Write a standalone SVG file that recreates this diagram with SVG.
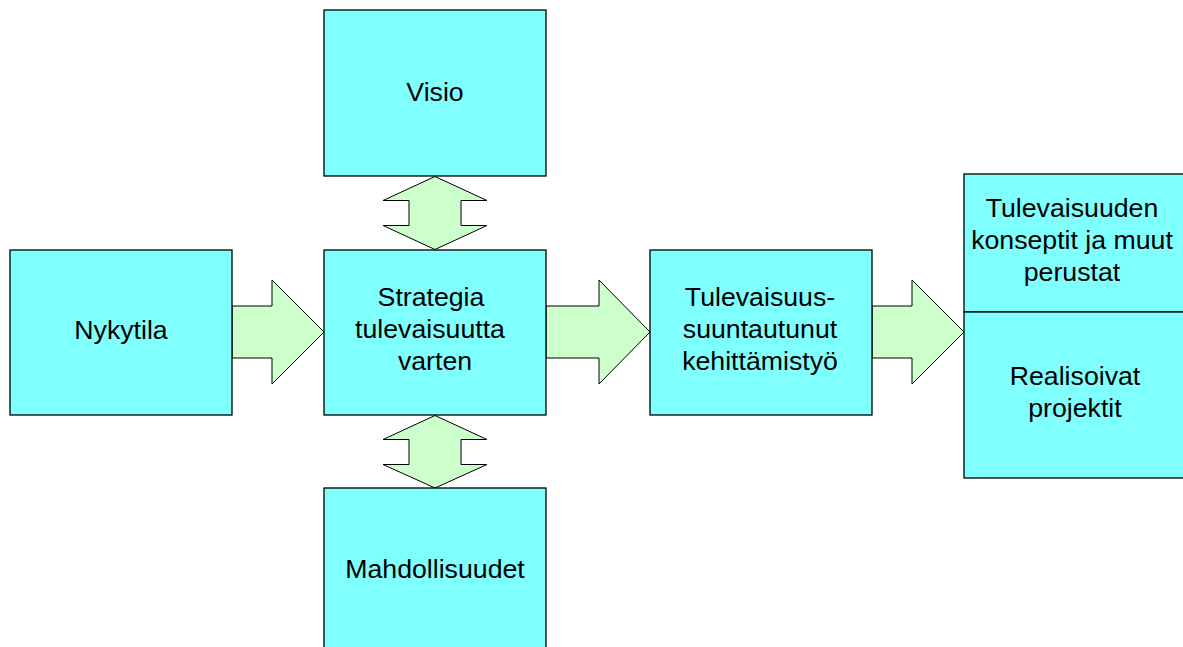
<svg xmlns="http://www.w3.org/2000/svg" width="1183" height="647" viewBox="0 0 1183 647">
  <style>
    .box { fill: #80ffff; stroke: #000000; stroke-width: 1.3; }
    .arrow { fill: #ccffcc; stroke: #000000; stroke-width: 1; stroke-linejoin: miter; }
    .label { font-family: "Liberation Sans", Arial, sans-serif; font-size: 26.7px; fill: #000000; text-anchor: middle; }
  </style>
  <rect width="1183" height="647" fill="#ffffff"/>

  <!-- connectors: block arrows between the boxes -->
  <g id="connectors">
    <path class="arrow" d="M232,306 H272 V280 L324,332 L272,384 V358 H232 Z"/>
    <path class="arrow" d="M546,306 H599 V280 L650,332 L599,384 V358 H546 Z"/>
    <path class="arrow" d="M872,306 H912 V280 L964,332 L912,384 V358 H872 Z"/>
    <path class="arrow" d="M435,176.5 L487,200.5 H461 V225.5 H487 L435,249.5 L383,225.5 H409 V200.5 H383 Z"/>
    <path class="arrow" d="M435,415.5 L487,439.5 H461 V464.5 H487 L435,488 L383,464.5 H409 V439.5 H383 Z"/>
  </g>

  <g id="nykytila">
    <rect class="box" x="10" y="250" width="222" height="165"/>
    <text class="label" x="121" y="339">Nykytila</text>
  </g>

  <g id="visio">
    <rect class="box" x="324" y="10" width="222" height="166"/>
    <text class="label" x="435" y="101">Visio</text>
  </g>

  <g id="strategia">
    <rect class="box" x="324" y="250" width="222" height="165"/>
    <text class="label" x="431" y="306">Strategia</text>
    <text class="label" x="430" y="338">tulevaisuutta</text>
    <text class="label" x="435" y="370">varten</text>
  </g>

  <g id="mahdollisuudet">
    <rect class="box" x="324" y="488" width="222" height="170"/>
    <text class="label" x="435" y="577.5">Mahdollisuudet</text>
  </g>

  <g id="kehittamistyo">
    <rect class="box" x="650" y="250" width="222" height="165"/>
    <text class="label" x="760" y="306">Tulevaisuus-</text>
    <text class="label" x="760" y="338">suuntautunut</text>
    <text class="label" x="760" y="370">kehittämistyö</text>
  </g>

  <g id="konseptit">
    <rect class="box" x="964" y="174" width="230" height="138"/>
    <text class="label" x="1072" y="217">Tulevaisuuden</text>
    <text class="label" x="1072" y="249">konseptit ja muut</text>
    <text class="label" x="1072" y="281">perustat</text>
  </g>

  <g id="projektit">
    <rect class="box" x="964" y="312" width="230" height="166"/>
    <text class="label" x="1075" y="385">Realisoivat</text>
    <text class="label" x="1075" y="417">projektit</text>
  </g>
</svg>
